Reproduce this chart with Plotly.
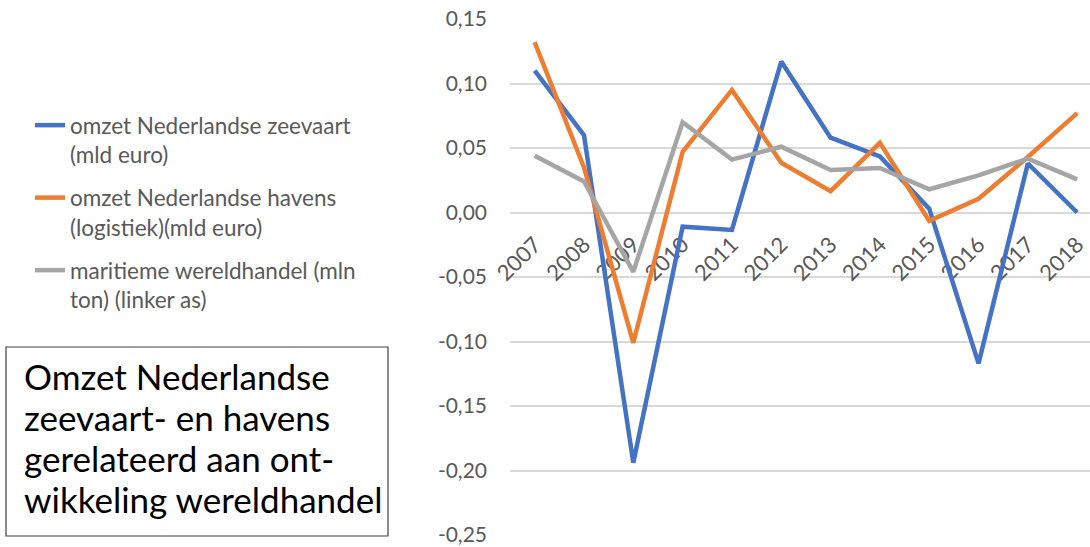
import plotly.graph_objects as go

# Jaarlijkse groei (fractie) per reeks
years = ["2007", "2008", "2009", "2010", "2011", "2012",
         "2013", "2014", "2015", "2016", "2017", "2018"]
zeevaart = [0.110, 0.060, -0.194, -0.011, -0.0135, 0.117,
            0.058, 0.0435, 0.003, -0.117, 0.038, 0.000]
havens = [0.132, 0.035, -0.101, 0.047, 0.095, 0.0386,
          0.0166, 0.054, -0.0065, 0.0106, 0.043, 0.077]
wereldhandel = [0.044, 0.024, -0.046, 0.070, 0.041, 0.051,
                0.033, 0.0345, 0.018, 0.0288, 0.0418, 0.0257]

names = [
    "omzet Nederlandse zeevaart<br>(mld euro)",
    "omzet Nederlandse havens<br>(logistiek)(mld euro)",
    "maritieme wereldhandel (mln<br>ton) (linker as)",
]
colors = ["#4472C4", "#ED7D31", "#A5A5A5"]

y_ticks = [0.15, 0.10, 0.05, 0.00, -0.05, -0.10, -0.15, -0.20, -0.25]
y_ticktext = ["0,15", "0,10", "0,05", "0,00", "-0,05", "-0,10", "-0,15", "-0,20", "-0,25"]

box_lines = ["Omzet Nederlandse", "zeevaart- en havens",
             "gerelateerd aan ont-", "wikkeling wereldhandel"]

W, H = 1090, 547
FONT = "Lato"
GRID = "#D9D9D9"
TXT = "#595959"

# plot area in pixels
px_left, px_right = 510, 1090
px_top, px_bottom = 19, 535
y_min, y_max = -0.25, 0.15
dom_x = [px_left / W, px_right / W]
dom_y = [1 - px_bottom / H, 1 - px_top / H]
# paper position of the value-0 line, where the category axis crosses
zero_pos = dom_y[0] + (0 - y_min) / (y_max - y_min) * (dom_y[1] - dom_y[0])

fig = go.Figure()
for i, (vals, name, col) in enumerate(zip([zeevaart, havens, wereldhandel], names, colors)):
    fig.add_trace(go.Scatter(
        x=years, y=vals, name=name, mode="lines",
        line=dict(color=col, width=4.5), legendgroup=f"g{i}",
    ))

fig.update_layout(
    width=W, height=H,
    margin=dict(l=0, r=0, t=0, b=0, autoexpand=False),
    paper_bgcolor="white", plot_bgcolor="white",
    font=dict(family=FONT, color=TXT, size=20),
    showlegend=True,
    legend=dict(
        x=0.0275, y=1 - 104 / H, xanchor="left", yanchor="top",
        font=dict(family=FONT, size=22.5, color=TXT),
        valign="top", tracegroupgap=11,
        bgcolor="rgba(0,0,0,0)",
    ),
    xaxis=dict(
        domain=dom_x, type="category",
        range=[-0.5, 11.26],
        anchor="free", position=zero_pos, automargin=False,
        showgrid=False, showline=False, zeroline=False,
        ticks="", tickangle=-45,
        tickfont=dict(family=FONT, size=22, color=TXT),
        ticklabelstandoff=14,
        layer="below traces",
    ),
    yaxis=dict(
        domain=dom_y, range=[y_min, y_max], automargin=False,
        tickvals=y_ticks, ticktext=y_ticktext,
        showgrid=True, gridcolor=GRID, gridwidth=1.5,
        zeroline=True, zerolinecolor=GRID, zerolinewidth=1.5,
        showline=False, ticks="",
        tickfont=dict(family=FONT, size=21, color=TXT),
        ticklabelstandoff=22,
        layer="below traces",
    ),
)

# framed caption box
fig.add_shape(
    type="rect", xref="paper", yref="paper",
    x0=6 / W, x1=388 / W, y0=1 - 536 / H, y1=1 - 347 / H,
    line=dict(color="#404040", width=1.2), fillcolor="rgba(0,0,0,0)",
)
for k, line_text in enumerate(box_lines):
    fig.add_annotation(
        xref="paper", yref="paper", x=22 / W, y=1 - (376 + 41 * k) / H,
        xanchor="left", yanchor="middle", align="left",
        text=line_text, showarrow=False,
        font=dict(family=FONT, size=35, color="black"),
    )

fig.write_html("out.html")
